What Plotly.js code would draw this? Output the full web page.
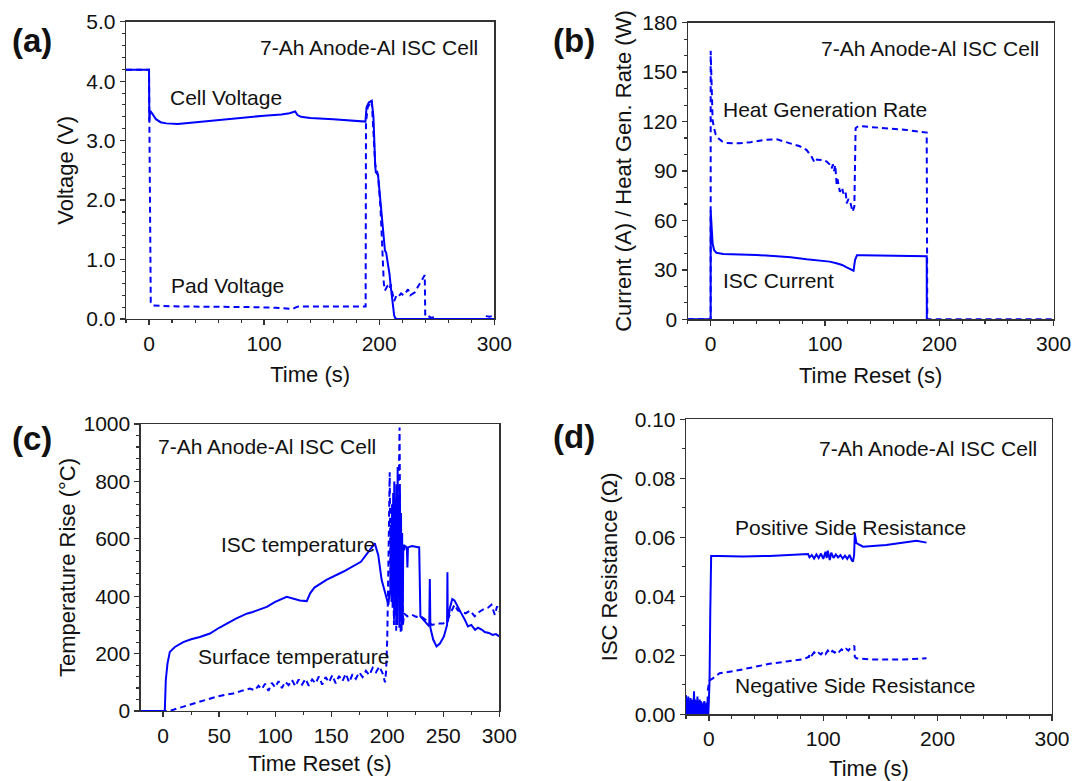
<!DOCTYPE html>
<html>
<head>
<meta charset="utf-8">
<script src="https://cdn.plot.ly/plotly-3.0.1.min.js"></script>
<style>html,body{margin:0;padding:0;background:#fff;}#chart{width:1073px;height:781px;}</style>
</head>
<body>
<div id="chart"></div>
<script>
// ---------- Panel (a): voltages ----------
const cellT = [-20, 0, 0.3, 1, 3, 6, 10, 15, 25, 40, 60, 80, 100, 115, 122, 127, 129, 132, 140, 160, 180, 188, 189, 191, 193.5, 195, 196.5, 197, 199, 200, 201, 202, 203, 204, 205, 206, 207, 208, 209, 210, 211, 212, 213, 214, 216, 250, 300];
const cellV = [4.19, 4.19, 3.33, 3.50, 3.45, 3.36, 3.31, 3.29, 3.28, 3.31, 3.35, 3.38, 3.42, 3.44, 3.46, 3.49, 3.43, 3.40, 3.38, 3.36, 3.34, 3.32, 3.56, 3.64, 3.67, 3.40, 2.60, 2.47, 2.42, 2.20, 2.00, 1.70, 1.45, 1.25, 1.15, 1.12, 1.00, 0.90, 0.75, 0.55, 0.35, 0.18, 0.06, 0.01, 0, 0, 0];
const padT = [-20, 0, 0.3, 0.8, 1.5, 3, 10, 30, 60, 90, 110, 120, 125, 128, 130, 150, 170, 188.2, 188.5, 190, 193.5, 196.5, 199, 200, 201, 202, 203, 204, 205, 207, 209, 210, 211, 212, 213, 215, 217, 219, 221, 223, 225, 227, 229, 231, 233, 235, 237, 239, 239.6, 240, 242, 245, 248, 250, 270, 290, 292, 296, 300];
const padV = [4.19, 4.19, 3.33, 1.00, 0.28, 0.23, 0.22, 0.21, 0.21, 0.20, 0.19, 0.18, 0.17, 0.20, 0.21, 0.21, 0.21, 0.21, 3.30, 3.56, 3.67, 2.60, 2.42, 2.20, 1.90, 1.50, 0.85, 0.60, 0.48, 0.55, 0.50, 0.58, 0.48, 0.35, 0.30, 0.40, 0.38, 0.43, 0.40, 0.44, 0.50, 0.40, 0.43, 0.45, 0.52, 0.58, 0.65, 0.70, 0.74, 0.05, 0.06, 0.02, 0.03, 0, 0, 0, 0.05, 0.04, 0.06];

// ---------- Panel (b): current and heat generation ----------
const currT = [-20, 0, 0.01, 0.8, 1.7, 3, 5, 11, 25, 40, 55, 70, 84, 93, 104, 110, 115, 119, 122, 125, 126.3, 128, 133, 160, 189, 189.1];
const currA = [0, 0, 66, 56, 46, 42, 40.4, 39.6, 39.4, 39, 38.4, 37.6, 36.4, 35.6, 35, 34, 33, 31.5, 30.5, 29.5, 36, 38.8, 38.8, 38.6, 38.2, 0];
const heatT = [-20, 0, 0.01, 0.5, 0.85, 1.7, 2.9, 4.5, 6.7, 10, 14, 25, 35, 46, 58, 69, 78, 84, 88, 91, 93, 95.6, 98, 101.5, 104, 105.8, 107, 108, 109, 110.2, 111, 113, 115, 116, 118, 119, 120.5, 122, 123, 124.2, 125.7, 126.8, 129.2, 145, 171.5, 189, 189.5, 300];
const heatW = [0, 0, 163, 150, 140, 121, 116, 112, 109.8, 108, 107, 106.8, 107.5, 108.8, 109.2, 106.8, 105, 102.7, 99, 95, 97, 96.7, 97, 95.7, 94, 91.6, 94, 90, 93.6, 82, 85, 77.4, 80, 76.4, 78, 70.4, 73, 71.4, 69, 65.3, 68.4, 116, 117.3, 116.5, 114.9, 113.3, 0, 0];

// ---------- Panel (c): temperatures ----------
const iscT = [-20, 1.5, 2.4, 3.9, 6, 10.5, 18, 25, 32.8, 41.8, 50, 56.7, 65, 74.6, 80, 92.5, 100, 110.3, 116.3, 122, 128.2, 131.2, 135, 145.7, 161, 176.5, 188.9, 192, 195, 199.7, 201, 202, 202.8, 203.3, 203.8, 204.3, 204.8, 205.3, 205.8, 206.3, 206.8, 207.3, 207.8, 208.3, 208.8, 209.3, 209.8, 210.3, 210.8, 211.3, 211.8, 212.3, 212.8, 213.3, 213.8, 214.3, 215, 216, 217.5, 218, 218.5, 222, 227.5, 228.5, 229.6, 235, 237.5, 238, 238.5, 241, 244, 247, 250.6, 253.4, 253.7, 254, 256, 258, 260, 263, 266, 269, 272, 275, 278.4, 281, 284.6, 287, 290.7, 294, 297, 300];
const iscC = [0, 0, 108, 165, 206, 223, 240, 250, 258, 270, 290, 305, 322, 339, 345, 363, 380, 398, 390, 385, 383, 410, 430, 457, 486, 520, 584, 543, 457, 387, 370, 410, 422, 650, 380, 720, 360, 760, 420, 800, 330, 740, 380, 790, 300, 850, 420, 720, 290, 770, 340, 690, 280, 620, 300, 580, 560, 575, 570, 500, 570, 575, 572, 570, 330, 306, 295, 460, 290, 249, 225, 235, 260, 300, 483, 310, 360, 390, 385, 360, 341, 320, 295, 300, 283, 290, 283, 275, 272, 265, 268, 260];
const surfT = [-20, 6, 12, 18, 25, 32.8, 40, 47.6, 55, 62.5, 70, 77.4, 82, 85, 88, 91, 94, 97, 100, 103, 106, 109, 112, 115, 118, 121, 124, 127, 130, 133, 136, 139, 142, 145, 148, 151, 154, 157, 160, 163, 166, 169, 172, 175, 178, 181, 184, 187, 190, 193, 196, 198, 199, 200, 201, 202.2, 203, 204, 205, 206, 207, 208, 209, 210, 211, 212, 213, 214, 215, 218, 222, 226, 230, 234, 237, 240, 245, 250, 254, 257, 260, 263, 266, 270, 274, 278, 282, 286, 290, 293, 296, 298, 300];
const surfC = [0, 0, 8, 15, 24, 32, 41, 50, 56, 61, 70, 78, 72, 88, 76, 95, 70, 98, 82, 104, 80, 102, 90, 108, 86, 110, 92, 112, 88, 110, 96, 120, 92, 118, 100, 125, 96, 122, 104, 130, 100, 128, 112, 135, 118, 140, 125, 150, 135, 155, 130, 100, 140, 250, 500, 832, 430, 600, 560, 300, 650, 280, 750, 700, 988, 272, 600, 300, 340, 330, 335, 328, 330, 320, 310, 300, 305, 305, 320, 345, 370, 350, 345, 340, 350, 330, 345, 355, 360, 370, 335, 365, 345];

// ---------- Panel (d): resistances ----------
const posT = [-20, -19.5, -19, -18.5, -18, -17.5, -17, -16.5, -16, -15.5, -15, -14.5, -14, -13.5, -13, -12.5, -12, -11.5, -11, -10.5, -10, -9.5, -9, -8.5, -8, -7.5, -7, -6.5, -6, -5.5, -5, -4.5, -4, -3.5, -3, -2.5, -2, -1.5, -1, -0.5, 0, 0.6, 1.2, 2, 9, 30, 53, 67.7, 86.7, 88, 90, 92, 94, 96, 98, 100, 102, 103, 104, 105.7, 107, 109, 111, 113, 115, 117, 119, 121, 123, 125, 126, 127, 127.6, 129, 134.8, 155, 170, 181.5, 190.3];
const posR = [0.0065, 0, 0.005, 0, 0.006, 0, 0.0045, 0, 0.0055, 0, 0.005, 0, 0.0048, 0, 0.0078, 0, 0.005, 0, 0.0045, 0, 0.006, 0, 0.004, 0, 0.005, 0, 0.0045, 0, 0.0035, 0, 0.004, 0, 0.0045, 0, 0.003, 0, 0.004, 0, 0.006, 0, 0.0045, 0.0116, 0.034, 0.0537, 0.0537, 0.0535, 0.0537, 0.054, 0.0543, 0.0532, 0.054, 0.0528, 0.0542, 0.053, 0.0545, 0.0527, 0.0551, 0.053, 0.0555, 0.0523, 0.0548, 0.053, 0.0542, 0.0532, 0.054, 0.0528, 0.0538, 0.0527, 0.054, 0.0522, 0.0518, 0.054, 0.0614, 0.058, 0.0568, 0.0574, 0.0582, 0.0588, 0.0582];
const negT = [-1, 0, 0.5, 3.5, 9.3, 24, 38.5, 53, 67.7, 82.3, 87.6, 88, 90, 92, 94, 96, 98, 100, 102, 104, 106, 108, 110, 112, 114, 116, 118, 120, 122, 124, 126, 127.2, 127.6, 129, 140.7, 170, 190.3];
const negR = [0.008, 0.0105, 0.0115, 0.0122, 0.0139, 0.0148, 0.0159, 0.0171, 0.0179, 0.0186, 0.0195, 0.0207, 0.0200, 0.0210, 0.0202, 0.0208, 0.0203, 0.0212, 0.0204, 0.0216, 0.0206, 0.0215, 0.0209, 0.0218, 0.0212, 0.0220, 0.0214, 0.0222, 0.0216, 0.0226, 0.0229, 0.0232, 0.0195, 0.0190, 0.0186, 0.0186, 0.0190];

// ---------- Texts ----------
const panelLabels = ['(a)', '(b)', '(c)', '(d)'];
const cellName = '7-Ah Anode-Al ISC Cell';
const xTitles = ['Time (s)', 'Time Reset (s)', 'Time Reset (s)', 'Time (s)'];
const yTitles = ['Voltage (V)', 'Current (A) / Heat Gen. Rate (W)', 'Temperature Rise (°C)', 'ISC Resistance (Ω)'];

// ---------- Layout helpers ----------
const W = 1073, H = 781;
const BLUE = 'rgb(0,0,255)';
const FONT = 'Liberation Sans, Arial, sans-serif';
const px = x => x / W;
const py = y => 1 - y / H;

function line(x, y, xa, ya, dashed) {
  return {x: x, y: y, xaxis: xa, yaxis: ya, type: 'scatter', mode: 'lines',
    line: {color: BLUE, width: 2, dash: dashed ? '6px,4px' : 'solid'}, hoverinfo: 'skip'};
}
const traces = [
  line(padT, padV, 'x', 'y', true),
  line(cellT, cellV, 'x', 'y', false),
  line(heatT, heatW, 'x2', 'y2', true),
  line(currT, currA, 'x2', 'y2', false),
  line(surfT, surfC, 'x3', 'y3', true),
  line(iscT, iscC, 'x3', 'y3', false),
  line(negT, negR, 'x4', 'y4', true),
  line(posT, posR, 'x4', 'y4', false)
];

function common() {
  return {showline: true, mirror: true, linecolor: '#333', linewidth: 1.3,
    ticks: 'outside', ticklen: 5, tickwidth: 1.3, tickcolor: '#333', tick0: 0,
    showgrid: false, zeroline: false, fixedrange: true,
    tickfont: {family: FONT, size: 21, color: '#111'}};
}
function xax(dom, anchor, range, dtick, minor, title, standoff) {
  return Object.assign(common(), {domain: dom, anchor: anchor, range: range, dtick: dtick,
    minor: {ticks: 'outside', ticklen: 3, tickwidth: 1.1, tickcolor: '#333', dtick: minor, tick0: 0, showgrid: false},
    title: {text: title, font: {family: FONT, size: 22, color: '#111'}, standoff: standoff}});
}
function yax(dom, anchor, range, dtick, minor, fmt, title, standoff) {
  return Object.assign(common(), {domain: dom, anchor: anchor, range: range, dtick: dtick, tickformat: fmt,
    minor: {ticks: 'outside', ticklen: 3, tickwidth: 1.1, tickcolor: '#333', dtick: minor, tick0: 0, showgrid: false},
    title: {text: title, font: {family: FONT, size: 22, color: '#111'}, standoff: standoff}});
}

const domA = {x: [px(126), px(494.3)], y: [py(319), py(21.7)]};
const domB = {x: [px(687.8), px(1053.6)], y: [py(319.3), py(22.7)]};
const domC = {x: [px(140.7), px(499.3)], y: [py(711), py(424)]};
const domD = {x: [px(686), px(1052)], y: [py(714.3), py(419.3)]};

function txt(text, x, y, anchor, size, bold) {
  return {xref: 'paper', yref: 'paper', x: px(x), y: py(y), xanchor: anchor, yanchor: 'middle',
    text: bold ? '<b>' + text + '</b>' : text, showarrow: false,
    font: {family: FONT, size: size, color: '#111'}};
}

const layout = {
  width: W, height: H, autosize: false,
  margin: {l: 0, r: 0, t: 0, b: 0},
  paper_bgcolor: '#fff', plot_bgcolor: '#fff',
  showlegend: false,
  xaxis: xax(domA.x, 'y', [-20, 300], 100, 20, xTitles[0], 13),
  yaxis: yax(domA.y, 'x', [0, 5], 1, 0.2, '.1f', yTitles[0], 6),
  xaxis2: xax(domB.x, 'y2', [-20, 300], 100, 20, xTitles[1], 13),
  yaxis2: yax(domB.y, 'x2', [0, 180], 30, 10, 'd', yTitles[1], 4),
  xaxis3: xax(domC.x, 'y3', [-20, 300], 50, 25, xTitles[2], 10),
  yaxis3: yax(domC.y, 'x3', [0, 1000], 200, 40, 'd', yTitles[2], 1.5),
  xaxis4: xax(domD.x, 'y4', [-20, 300], 100, 20, xTitles[3], 12),
  yaxis4: yax(domD.y, 'x4', [0, 0.1], 0.02, 0.01, '.2f', yTitles[3], 10.5),
  annotations: [
    txt(panelLabels[0], 10, 41, 'left', 33, true),
    txt(panelLabels[1], 551, 41, 'left', 33, true),
    txt(panelLabels[2], 10, 438, 'left', 33, true),
    txt(panelLabels[3], 551, 436, 'left', 33, true),
    txt(cellName, 480, 47, 'right', 21),
    txt(cellName, 1041, 49, 'right', 21),
    txt(cellName, 156, 446, 'left', 21),
    txt(cellName, 1039, 448, 'right', 21),
    txt('Cell Voltage', 168, 97, 'left', 21),
    txt('Pad Voltage', 169, 285, 'left', 21),
    txt('Heat Generation Rate', 721, 109, 'left', 21),
    txt('ISC Current', 721, 281, 'left', 21),
    txt('ISC temperature', 219, 544, 'left', 21),
    txt('Surface temperature', 196, 656, 'left', 21),
    txt('Positive Side Resistance', 733, 527, 'left', 21),
    txt('Negative Side Resistance', 733, 685, 'left', 21)
  ]
};

Plotly.newPlot('chart', traces, layout, {staticPlot: true, displayModeBar: false});
</script>
</body>
</html>
